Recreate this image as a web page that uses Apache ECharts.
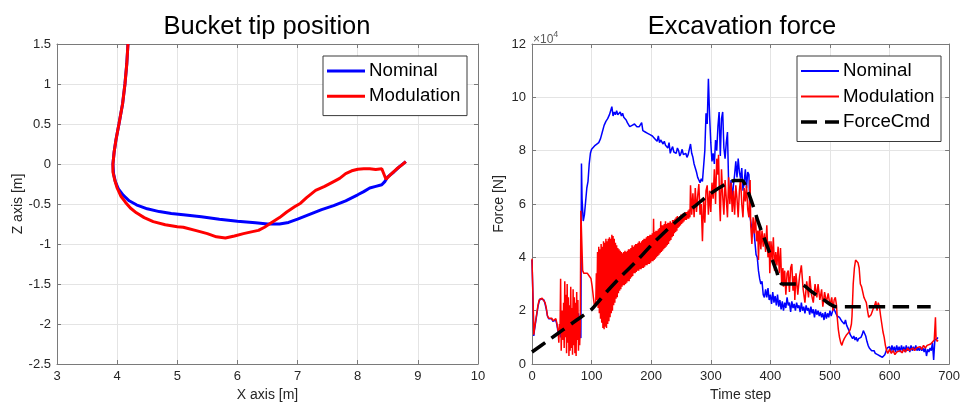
<!DOCTYPE html>
<html>
<head>
<meta charset="utf-8">
<script src="https://cdn.jsdelivr.net/npm/echarts@6/dist/echarts.min.js"></script>
<style>
  html, body { margin: 0; padding: 0; background: #fff; }
  #chart { width: 963px; height: 407px; }
</style>
</head>
<body>
<div id="chart"></div>
<script>
// ---- Bucket tip trajectory, [X (m), Z (m)] ----
const tipNominal = [
  [4.18,1.5],[4.16,1.25],[4.13,1.0],[4.09,0.75],[4.03,0.5],[3.98,0.3],[3.95,0.15],[3.93,0.0],
  [3.94,-0.12],[3.97,-0.22],[4.02,-0.31],[4.1,-0.39],[4.2,-0.46],[4.32,-0.51],[4.5,-0.56],
  [4.7,-0.595],[4.9,-0.62],[5.1,-0.635],[5.4,-0.66],[5.7,-0.69],[6.0,-0.715],[6.3,-0.735],
  [6.5,-0.75],[6.7,-0.75],[6.85,-0.73],[7.0,-0.69],[7.2,-0.63],[7.4,-0.57],[7.6,-0.52],
  [7.8,-0.46],[8.0,-0.385],[8.1,-0.345],[8.2,-0.3],[8.3,-0.28],[8.4,-0.26],[8.45,-0.22],
  [8.5,-0.16],[8.6,-0.1],[8.7,-0.03],[8.8,0.03]
];
const tipModulation = [
  [4.18,1.5],[4.16,1.25],[4.13,1.0],[4.09,0.75],[4.03,0.5],[3.98,0.3],[3.95,0.15],[3.93,0.0],
  [3.93,-0.1],[3.96,-0.2],[4.0,-0.3],[4.06,-0.4],[4.14,-0.48],[4.22,-0.55],[4.32,-0.61],
  [4.45,-0.67],[4.6,-0.72],[4.8,-0.76],[5.0,-0.785],[5.1,-0.79],[5.3,-0.83],[5.5,-0.87],
  [5.65,-0.91],[5.8,-0.925],[5.95,-0.9],[6.1,-0.87],[6.25,-0.845],[6.35,-0.83],[6.45,-0.79],
  [6.55,-0.74],[6.7,-0.67],[6.82,-0.6],[6.95,-0.535],[7.05,-0.49],[7.15,-0.42],[7.3,-0.33],
  [7.45,-0.28],[7.6,-0.22],[7.7,-0.18],[7.8,-0.12],[7.9,-0.085],[8.0,-0.065],[8.1,-0.06],
  [8.2,-0.06],[8.3,-0.07],[8.4,-0.06],[8.47,-0.19],[8.55,-0.13],[8.65,-0.06],[8.72,-0.02],
  [8.8,0.03]
];

// ---- Excavation force, [time step, force (x10^4 N)] ----
const forceNominal = [
  [0,3.9],[1,3.85],[2,2.1],[3,1.05],[4,1.25],[6,1.55],[8,1.85],[10,2.15],[12,2.35],[14,2.45],
  [17,2.45],[20,2.4],[22,2.25],[24,2.05],[26,1.8],[28,1.7],[30,1.65],[33,1.7],[35,1.6],[38,1.55],
  [40,1.65],[42,1.45],[44,1.15],[46,1.3],[48,1.0],[50,1.2],[52,0.95],[54,1.4],[56,1.1],[58,1.5],
  [60,1.2],[62,1.45],[64,1.3],[66,1.6],[68,1.4],[70,1.7],[72,1.5],[74,1.8],[76,1.6],[78,1.9],
  [80,1.4],[82,0.97],[83,7.52],[84,6.2],[86,5.36],[88,5.6],[90,6.1],[92,6.6],[94,6.85],[96,7.5],
  [98,7.9],[100,8.05],[103,8.1],[106,8.2],[109,8.25],[112,8.3],[115,8.45],[118,8.7],[121,8.95],
  [124,9.1],[127,9.2],[130,9.35],[132,9.4],[134,9.65],[136,9.3],[138,9.45],[140,9.35],[142,9.5],
  [144,9.35],[146,9.4],[148,9.45],[150,9.3],[152,9.4],[154,9.25],[156,9.2],[158,9.15],[160,9.05],
  [162,9.1],[164,8.9],[166,8.95],[168,8.95],[170,8.9],[172,9.0],[174,8.95],[176,8.9],[178,8.95],
  [180,8.9],[182,8.95],[184,9.05],[186,8.75],[188,8.8],[190,8.7],[192,8.75],[194,8.65],[196,8.7],
  [198,8.6],[200,8.65],[202,8.55],[204,8.6],[206,8.45],[208,8.5],[210,8.35],[212,8.55],[214,8.3],
  [216,8.4],[218,8.35],[220,8.25],[222,8.35],[224,8.2],[226,8.25],[228,8.1],[230,8.3],[232,7.9],
  [234,8.05],[236,8.15],[238,7.95],[240,8.0],[242,7.9],[244,8.1],[246,8.0],[248,7.8],[250,7.9],
  [252,8.05],[254,7.85],[256,7.8],[258,7.9],[260,7.75],[262,7.85],[264,7.8],[266,8.25],[268,7.9],
  [270,7.75],[272,7.5],[274,7.35],[276,7.2],[278,7.0],[280,6.9],[282,6.8],[284,6.95],[286,6.85],
  [288,6.85],[290,8.0],[292,9.4],[294,9.0],[296,10.7],[298,9.3],[300,8.3],[302,7.6],[304,7.9],
  [306,7.5],[308,8.4],[310,8.0],[312,8.9],[314,9.45],[316,7.8],[318,9.2],[320,9.45],[322,8.1],
  [324,7.7],[326,8.3],[328,8.7],[330,6.7],[332,6.35],[334,6.9],[336,6.2],[338,6.7],[340,7.1],
  [342,7.6],[344,7.0],[346,7.7],[348,7.2],[350,6.95],[352,7.35],[354,6.5],[356,6.8],[358,7.3],
  [360,6.6],[362,7.2],[364,7.1],[366,5.5],[368,5.2],[370,5.0],[372,5.1],[374,4.6],[376,4.1],
  [378,4.0],[380,3.5],[382,3.2],[384,3.0],[386,3.1],[388,2.6],[390,2.5],[392,2.8],[394,2.5],
  [396,2.85],[398,2.4],[400,2.6],[402,2.25],[404,2.7],[406,2.3],[408,2.55],[410,2.2],[412,2.6],
  [414,2.15],[416,2.4],[418,2.05],[420,2.35],[422,2.0],[424,2.3],[426,2.1],[428,2.5],[430,2.2],
  [432,2.3],[434,1.95],[436,2.35],[438,2.1],[440,2.25],[442,2.0],[444,2.3],[446,2.1],[448,2.2],
  [450,1.95],[452,2.3],[454,2.0],[456,2.15],[458,1.9],[460,2.2],[462,2.0],[464,2.1],[466,1.85],
  [468,2.15],[470,1.9],[472,2.05],[474,1.75],[476,2.05],[478,1.85],[480,2.0],[482,1.8],[484,1.95],
  [486,1.75],[488,1.9],[490,1.65],[492,1.95],[494,1.7],[496,1.9],[498,1.75],[500,2.0],[502,1.8],
  [504,1.95],[506,2.1],[508,2.15],[510,1.9],[512,1.8],[514,1.85],[516,1.75],[518,1.7],[520,1.6],
  [522,1.55],[524,1.5],[526,1.65],[528,1.45],[530,1.5],[532,1.25],[534,1.1],[536,1.05],[538,0.95],
  [540,1.05],[542,0.9],[544,1.0],[546,0.85],[548,0.95],[550,0.9],[552,1.0],[554,1.1],[556,1.25],
  [558,1.3],[560,1.05],[562,0.85],[564,0.7],[566,0.6],[568,0.55],[570,0.5],[572,0.45],[574,0.5],
  [576,0.4],[578,0.45],[580,0.35],[582,0.4],[584,0.3],[586,0.35],[588,0.25],[590,0.3],[592,0.35],
  [594,0.3],[596,0.6],[598,0.55],[600,0.65],[602,0.45],[604,0.7],[606,0.5],[608,0.65],[610,0.45],
  [612,0.7],[614,0.5],[616,0.65],[618,0.45],[620,0.7],[622,0.5],[624,0.65],[626,0.45],[628,0.7],
  [630,0.5],[632,0.65],[634,0.45],[636,0.7],[638,0.5],[640,0.65],[642,0.5],[644,0.7],[646,0.5],
  [648,0.6],[650,0.5],[652,0.65],[654,0.5],[656,0.6],[658,0.45],[660,0.6],[662,0.3],[664,0.55],
  [666,0.45],[668,0.6],[670,0.5],[672,0.8],[674,0.15],[676,0.9],[678,0.85],[680,0.95],[681,1.0]
];

// Modulation force: start-up and noisy low-force phase
const modulationEarly = [
  [0,3.95],[1,3.9],[2,2.2],[3,1.1],[4,1.3],[6,1.6],[8,1.9],[10,2.2],[12,2.4],[14,2.45],[17,2.47],
  [20,2.44],[22,2.3],[24,2.1],[26,1.8],[28,1.72],[30,1.68],[33,1.72],[35,1.62],[38,1.56],[40,1.7],
  [42,1.5],[44,1.2],[45,0.8],[46,1.5],[47,1.2],[48,3.2],[49,0.5],[50,1.6],[51,2.0],[52,0.9],[53,2.3],
  [54,0.6],[55,3.1],[56,1.0],[57,2.6],[58,0.4],[59,3.0],[60,0.8],[61,2.5],[62,0.3],[63,2.2],
  [64,0.5],[65,2.9],[66,0.6],[67,2.1],[68,0.35],[69,2.8],[70,0.7],[71,2.5],[72,0.4],[73,2.3],
  [74,0.3],[75,2.7],[76,0.9],[77,2.4],[78,0.5],[79,1.8],[80,0.7],[81,1.5],[82,5.75],[84,5.7],
  [85,3.5],[87,3.4],[90,3.45],[93,3.4],[96,3.3],[99,3.2],[101,2.9],[103,2.5],[105,2.15],[107,2.3]
];
// Modulation force: fast oscillation while the force ramps up, one value per step from step 108
const modulationRampStart = 108;
const modulationRamp = [
  3.4,2.4,4.2,2.1,4.4,1.9,4.3,1.7,4.5,1.55,4.4,1.35,
  4.6,1.3,4.55,1.4,4.7,1.35,4.6,1.5,4.7,1.6,
  4.75,1.75,4.7,1.9,4.85,2.0,4.8,2.2,4.7,2.3,
  4.55,2.45,4.45,2.5,4.35,2.65,4.3,2.75,4.25,2.8,
  4.2,2.9,4.15,2.95,4.2,2.95,4.25,3.0,4.2,3.05,
  4.25,3.1,4.3,3.1,4.3,3.2,4.35,3.25,4.45,3.3,
  4.4,3.4,4.45,3.4,4.5,3.45,4.5,3.5,4.55,3.5,
  4.6,3.55,4.55,3.55,4.6,3.6,4.65,3.6,4.7,3.65,
  4.7,3.7,4.75,3.7,4.8,3.75,4.8,3.75,4.85,3.8,
  4.85,3.85,4.9,3.85,5.45,3.9,4.95,3.95,5.0,4.0,
  5.0,4.05,5.05,4.1,5.1,4.15,5.35,4.2,5.2,4.25,
  5.2,4.3,5.25,4.35,5.35,4.4,5.25,4.45,5.3,4.5,
  5.3,4.6,5.35,4.65,5.3,4.75,5.4,4.8,5.4,4.9,
  5.45,4.95,5.5,5.0,5.55,5.1,5.5,5.15,5.55,5.2,
  5.6,5.25,5.6,5.3,5.65,5.35,5.6,5.4,5.7,5.4,
  5.7,5.45,5.75,5.45,5.8,5.5
];
// Modulation force: peak, unloading and end of the cycle
const modulationLate = [
  [266,6.7],[268,5.6],[270,6.4],[272,5.5],[274,6.6],[276,5.7],[278,6.3],[280,6.75],[282,5.6],
  [284,6.0],[286,4.6],[288,6.2],[290,5.3],[292,6.5],[294,6.7],[296,5.6],[298,6.5],[300,5.7],
  [302,6.8],[304,6.2],[306,7.3],[308,6.0],[310,7.7],[312,7.1],[313,7.85],[315,5.9],[316,5.35],
  [318,7.3],[320,6.3],[322,5.6],[324,6.9],[326,6.2],[328,5.5],[330,7.0],[332,6.0],[334,6.8],
  [336,5.7],[338,6.5],[340,5.6],[342,6.7],[344,6.2],[346,5.5],[348,6.5],[350,6.95],[352,6.0],
  [354,5.5],[356,6.6],[358,6.1],[360,6.7],[362,5.8],[364,5.5],[366,6.9],[367,5.2],[369,4.5],
  [371,5.5],[373,4.9],[375,5.5],[377,4.6],[379,5.0],[380,3.9],[382,5.2],[384,4.3],[386,5.0],
  [388,4.4],[390,4.9],[392,4.2],[394,5.2],[396,4.0],[398,4.6],[399,3.4],[401,4.6],[403,3.9],
  [405,4.75],[407,3.5],[409,4.2],[411,3.7],[413,4.4],[415,3.4],[417,4.35],[419,3.0],[421,3.6],
  [422,2.9],[424,3.5],[426,2.6],[428,3.4],[430,3.5],[432,2.7],[434,3.6],[436,3.75],[438,2.75],
  [440,3.3],[441,2.4],[443,3.4],[446,2.6],[449,3.3],[452,3.7],[455,2.8],[458,2.3],[461,3.1],
  [464,2.5],[466,3.3],[469,2.6],[472,2.3],[475,3.0],[478,2.5],[480,3.0],[483,2.4],[486,2.8],
  [488,2.15],[491,2.7],[494,2.3],[497,2.65],[500,2.2],[503,2.5],[505,2.0],[507,2.4],[509,2.5],
  [511,2.2],[512,1.8],[514,1.3],[516,1.0],[518,0.8],[520,0.7],[522,0.85],[524,0.95],[526,1.0],
  [528,1.1],[530,1.15],[532,1.2],[534,1.3],[536,1.5],[537,1.8],[539,3.0],[541,3.6],[543,3.9],
  [545,3.85],[547,3.8],[549,3.6],[551,3.0],[553,2.9],[555,2.7],[557,2.5],[559,2.4],[561,2.3],
  [563,2.0],[565,1.75],[567,1.8],[569,1.85],[571,1.9],[573,2.1],[575,2.2],[577,2.35],[579,2.0],
  [581,2.3],[583,2.15],[585,1.8],[587,1.5],[589,1.2],[591,1.0],[593,0.7],[595,0.5],[597,0.4],
  [600,0.55],[603,0.4],[606,0.5],[609,0.35],[612,0.45],[615,0.4],[618,0.5],[621,0.42],[624,0.55],
  [627,0.45],[630,0.6],[633,0.5],[636,0.55],[639,0.6],[642,0.5],[645,0.6],[648,0.55],[651,0.65],
  [654,0.55],[657,0.7],[660,0.6],[663,0.7],[666,0.65],[669,0.75],[672,0.8],[675,0.9],[677,1.75],
  [678,0.95],[680,0.85],[681,0.9]
];
const forceCommand = [
  [0,0.45],[25,0.85],[50,1.25],[75,1.65],[100,2.05],[110,2.3],[125,2.7],[150,3.3],[175,3.85],
  [200,4.45],[225,5.0],[250,5.5],[275,5.95],[300,6.4],[325,6.75],[340,6.88],[352,6.88],[360,6.6],
  [370,6.0],[380,5.3],[390,4.7],[400,4.1],[410,3.5],[420,3.0],[450,3.0],[470,2.7],[490,2.4],
  [510,2.15],[550,2.15],[600,2.15],[650,2.15],[669,2.15]
];

// ---- Axis ticks ----
const xTicksLeft = { min: 3, max: 10, step: 1 };
const zTicksLeft = { min: -2.5, max: 1.5, step: 0.5 };
const stepTicks = { min: 0, max: 700, step: 100 };
const forceTicks = { min: 0, max: 12, step: 2 };

// ---- Legend entries ----
const tipLegend = ['Nominal', 'Modulation'];
const forceLegend = ['Nominal', 'Modulation', 'ForceCmd'];

const forceModulation = modulationEarly
  .concat(modulationRamp.map((v, i) => [modulationRampStart + i, v]))
  .concat(modulationLate);

const FONT = '"Liberation Sans", Arial, Helvetica, sans-serif';
const TXT = '#262626';
const AXIS = '#7a7a7a';
const GRIDLINE = '#e4e4e4';
const BLUE = '#0000ff', RED = '#ff0000', BLACK = '#000000';
const DASH = [16, 8];
const TOP = 100;

function boxAxis(gridIndex, ticks, position, extra) {
  const main = position === 'bottom' || position === 'left';
  return Object.assign({
    gridIndex, type: 'value', position,
    min: ticks.min, max: ticks.max, interval: ticks.step,
    axisLine: { show: true, onZero: false, lineStyle: { color: AXIS, width: 1 } },
    axisTick: { show: true, inside: true, length: 4, lineStyle: { color: AXIS } },
    splitLine: { show: main, lineStyle: { color: GRIDLINE, width: 1 } },
    axisLabel: main ? { show: true, color: TXT, fontSize: 13, fontFamily: FONT, margin: 6 } : { show: false },
    nameTextStyle: { color: TXT, fontSize: 14, fontFamily: FONT }
  }, extra || {});
}

// Boxed legend: line sample + label per row, drawn above the plot
function legendBox(x, y, w, rowGap, names, styles) {
  const items = [{
    type: 'rect', z: TOP,
    shape: { x: x, y: y, width: w, height: 10 + rowGap * names.length - 1 },
    style: { fill: '#fff', stroke: '#3a3a3a', lineWidth: 1 }
  }];
  names.forEach((n, i) => {
    const cy = y + 15 + rowGap * i;
    items.push({
      type: 'line', z: TOP + 1,
      shape: { x1: x + 4, y1: cy, x2: x + 42, y2: cy },
      style: Object.assign({ fill: null }, styles[i])
    });
    items.push({
      type: 'text', z: TOP + 1, x: x + 46, y: cy,
      style: { text: n, fill: '#000', font: '18.7px ' + FONT, align: 'left', verticalAlign: 'middle' }
    });
  });
  return items;
}

const chart = echarts.init(document.getElementById('chart'), null, { renderer: 'canvas' });

chart.setOption({
  animation: false,
  backgroundColor: '#fff',
  textStyle: { fontFamily: FONT },
  title: [
    { text: 'Bucket tip position', left: 267, top: 14, padding: 0, textAlign: 'center',
      textStyle: { fontSize: 25.5, fontWeight: 'normal', color: '#000', fontFamily: FONT } },
    { text: 'Excavation force', left: 742, top: 14, padding: 0, textAlign: 'center',
      textStyle: { fontSize: 25.5, fontWeight: 'normal', color: '#000', fontFamily: FONT } }
  ],
  grid: [
    { left: 57, top: 44, width: 421, height: 324 },
    { left: 532, top: 44, width: 420, height: 324 }
  ],
  xAxis: [
    boxAxis(0, xTicksLeft, 'bottom', { name: 'X axis [m]', nameLocation: 'middle', nameGap: 24 }),
    boxAxis(0, xTicksLeft, 'top'),
    boxAxis(1, stepTicks, 'bottom', { name: 'Time step', nameLocation: 'middle', nameGap: 24 }),
    boxAxis(1, stepTicks, 'top')
  ],
  yAxis: [
    boxAxis(0, zTicksLeft, 'left', { name: 'Z axis [m]', nameLocation: 'middle', nameGap: 32 }),
    boxAxis(0, zTicksLeft, 'right'),
    boxAxis(1, forceTicks, 'left', { name: 'Force [N]', nameLocation: 'middle', nameGap: 26 }),
    boxAxis(1, forceTicks, 'right')
  ],
  graphic: [].concat(
    legendBox(323, 56, 144, 25.3, tipLegend, [
      { stroke: BLUE, lineWidth: 3 },
      { stroke: RED, lineWidth: 3 }
    ]),
    legendBox(797, 56, 144, 25.5, forceLegend, [
      { stroke: BLUE, lineWidth: 2 },
      { stroke: RED, lineWidth: 2 },
      { stroke: BLACK, lineWidth: 3.5, lineDash: DASH }
    ]),
    [{
      type: 'text', x: 533, y: 30, z: TOP,
      style: {
        text: '{a|×10}{b|4}',
        fill: '#5a5a5a',
        rich: {
          a: { fontSize: 12, fontFamily: FONT, fill: '#5a5a5a', verticalAlign: 'bottom', lineHeight: 16 },
          b: { fontSize: 9, fontFamily: FONT, fill: '#5a5a5a', verticalAlign: 'top', lineHeight: 16 }
        }
      }
    }]
  ),
  series: [
    { name: 'Nominal', type: 'line', xAxisIndex: 0, yAxisIndex: 0, data: tipNominal,
      symbol: 'none', lineStyle: { color: BLUE, width: 3 } },
    { name: 'Modulation', type: 'line', xAxisIndex: 0, yAxisIndex: 0, data: tipModulation,
      symbol: 'none', lineStyle: { color: RED, width: 3 } },
    { name: 'Nominal', type: 'line', xAxisIndex: 2, yAxisIndex: 2, data: forceNominal,
      symbol: 'none', lineStyle: { color: BLUE, width: 1.5 } },
    { name: 'Modulation', type: 'line', xAxisIndex: 2, yAxisIndex: 2, data: forceModulation,
      symbol: 'none', lineStyle: { color: RED, width: 1.5 } },
    { name: 'ForceCmd', type: 'line', xAxisIndex: 2, yAxisIndex: 2, data: forceCommand,
      symbol: 'none', smooth: 0.3, lineStyle: { color: BLACK, width: 3.5, type: DASH } }
  ]
});
</script>
</body>
</html>
